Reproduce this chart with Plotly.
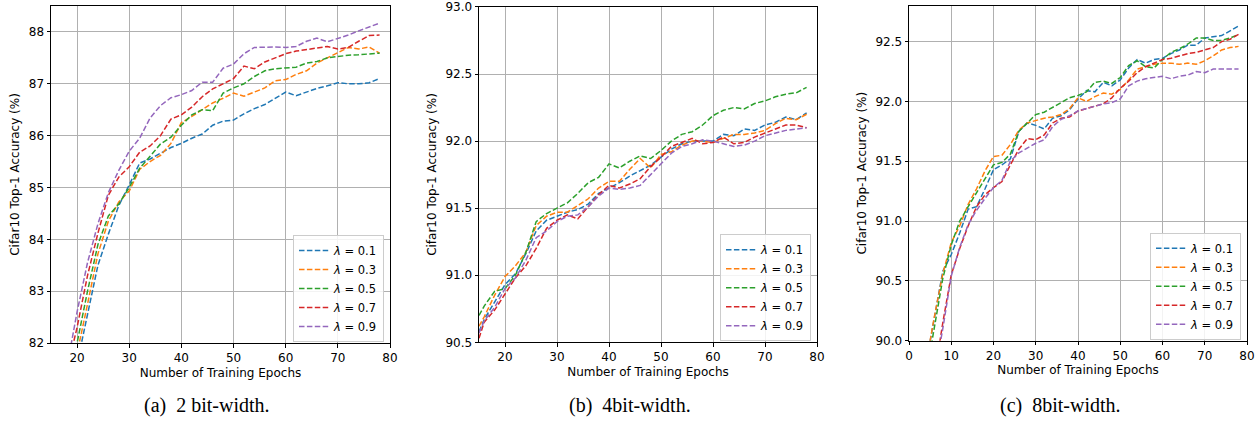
import plotly.graph_objects as go

# ---------------- data ----------------
lambdas = ["0.1", "0.3", "0.5", "0.7", "0.9"]
colors = ["#1f77b4", "#ff7f0e", "#2ca02c", "#d62728", "#9467bd"]

# (a) 2 bit-width
epochs_a = list(range(18, 79, 2))
a_l01 = [81.0, 81.6, 82.55, 83.5, 84.1, 84.65, 85.05, 85.47, 85.55, 85.66, 85.77, 85.85, 85.95, 86.03,
         86.2, 86.28, 86.3, 86.42, 86.52, 86.6, 86.72, 86.84, 86.77, 86.84, 86.91, 86.96, 87.02, 87.0,
         87.0, 87.02, 87.1]
a_l03 = [81.15, 81.8, 82.75, 83.72, 84.35, 84.72, 84.93, 85.35, 85.5, 85.62, 85.85, 86.25, 86.37, 86.5,
         86.63, 86.72, 86.82, 86.76, 86.84, 86.92, 87.06, 87.08, 87.18, 87.25, 87.4, 87.5, 87.6, 87.7,
         87.67, 87.71, 87.59]
a_l05 = [81.3, 82.0, 83.0, 83.9, 84.45, 84.68, 85.0, 85.37, 85.6, 85.84, 85.97, 86.2, 86.4, 86.5,
         86.48, 86.82, 86.92, 87.0, 87.14, 87.25, 87.29, 87.3, 87.32, 87.4, 87.43, 87.5, 87.53, 87.55,
         87.56, 87.58, 87.59]
a_l07 = [81.45, 82.3, 83.3, 84.12, 84.85, 85.2, 85.4, 85.68, 85.8, 86.0, 86.32, 86.4, 86.55, 86.75,
         86.9, 87.0, 87.1, 87.34, 87.29, 87.42, 87.5, 87.58, 87.63, 87.66, 87.69, 87.72, 87.67, 87.7,
         87.82, 87.93, 87.94]
a_l09 = [81.5, 82.6, 83.55, 84.3, 84.9, 85.33, 85.7, 85.95, 86.34, 86.58, 86.73, 86.79, 86.87, 87.03,
         87.03, 87.3, 87.38, 87.58, 87.7, 87.71, 87.71, 87.7, 87.72, 87.82, 87.88, 87.81, 87.87, 87.94,
         88.02, 88.1, 88.17]

# (b) 4bit-width
epochs_b = [15] + list(range(16, 79, 2))
b_l01 = [90.58, 90.67, 90.8, 90.93, 91.01, 91.16, 91.33, 91.41, 91.44, 91.47, 91.49, 91.53, 91.61,
         91.65, 91.69, 91.74, 91.78, 91.82, 91.88, 91.94, 91.98, 92.0, 92.0, 92.0, 92.05, 92.04, 92.09,
         92.08, 92.12, 92.14, 92.18, 92.16, 92.21]
b_l03 = [90.62, 90.69, 90.85, 90.99, 91.07, 91.17, 91.37, 91.44, 91.47, 91.47, 91.52, 91.57, 91.65,
         91.7, 91.7, 91.79, 91.87, 91.8, 91.9, 91.92, 91.97, 92.0, 92.0, 91.99, 92.02, 92.05, 92.05,
         92.06, 92.08, 92.13, 92.17, 92.16, 92.2]
b_l05 = [90.7, 90.77, 90.88, 90.9, 91.0, 91.17, 91.4, 91.46, 91.5, 91.54, 91.61, 91.69, 91.73,
         91.83, 91.8, 91.85, 91.89, 91.87, 91.93, 92.0, 92.05, 92.07, 92.12, 92.19, 92.23, 92.25, 92.24,
         92.28, 92.3, 92.33, 92.35, 92.36, 92.4]
b_l07 = [90.53, 90.65, 90.74, 90.86, 90.98, 91.07, 91.2, 91.35, 91.41, 91.45, 91.42, 91.51, 91.6,
         91.67, 91.65, 91.68, 91.72, 91.81, 91.88, 91.96, 91.99, 92.02, 91.98, 91.99, 92.03, 91.98, 91.99,
         92.03, 92.06, 92.09, 92.12, 92.12, 92.1]
b_l09 = [90.57, 90.66, 90.76, 90.9, 90.98, 91.11, 91.28, 91.33, 91.4, 91.44, 91.45, 91.51, 91.59,
         91.65, 91.64, 91.65, 91.67, 91.75, 91.83, 91.91, 91.96, 91.98, 92.01, 92.0, 91.98, 91.96, 91.97,
         92.0, 92.04, 92.06, 92.08, 92.09, 92.1]

# (c) 8bit-width
epochs_c = list(range(4, 79, 2))
c_l01 = [89.8, 90.18, 90.58, 90.72, 90.9, 91.1, 91.12, 91.27, 91.43, 91.47, 91.52, 91.75, 91.82, 91.8,
         91.77, 91.86, 91.88, 91.93, 92.02, 92.09, 92.08, 92.16, 92.13, 92.18, 92.28, 92.35, 92.32, 92.35,
         92.36, 92.4, 92.43, 92.47, 92.47, 92.53, 92.54, 92.55, 92.59, 92.63]
c_l03 = [89.8, 90.2, 90.56, 90.82, 90.96, 91.14, 91.27, 91.42, 91.54, 91.55, 91.64, 91.76, 91.82, 91.84,
         91.86, 91.87, 91.89, 91.94, 92.03, 92.0, 92.04, 92.07, 92.06, 92.1, 92.18, 92.27, 92.29, 92.31,
         92.32, 92.32, 92.31, 92.32, 92.31, 92.34, 92.38, 92.43, 92.45, 92.46]
c_l05 = [89.7, 90.12, 90.52, 90.8, 91.0, 91.12, 91.24, 91.36, 91.47, 91.49, 91.56, 91.75, 91.82, 91.89,
         91.91, 91.95, 91.99, 92.03, 92.05, 92.08, 92.16, 92.17, 92.15, 92.2, 92.3, 92.34, 92.29, 92.28,
         92.35, 92.41, 92.44, 92.48, 92.53, 92.53, 92.51, 92.51, 92.53, 92.56]
c_l07 = [89.4, 89.7, 90.15, 90.55, 90.77, 90.96, 91.12, 91.22, 91.28, 91.33, 91.47, 91.6, 91.69, 91.68,
         91.72, 91.82, 91.86, 91.87, 91.92, 91.94, 91.96, 91.98, 92.03, 92.11, 92.17, 92.24, 92.29, 92.32,
         92.35, 92.36, 92.38, 92.4, 92.41, 92.43, 92.45, 92.5, 92.52, 92.56]
c_l09 = [89.3, 89.7, 90.1, 90.54, 90.78, 90.97, 91.09, 91.19, 91.28, 91.34, 91.5, 91.57, 91.61, 91.65,
         91.68, 91.79, 91.85, 91.88, 91.92, 91.94, 91.96, 91.98, 91.99, 92.02, 92.13, 92.17, 92.19, 92.2,
         92.21, 92.19, 92.21, 92.22, 92.25, 92.24, 92.27, 92.27, 92.27, 92.27]

captions = ["(a)\u00a0\u00a02 bit-width.", "(b)\u00a0\u00a04bit-width.", "(c)\u00a0\u00a08bit-width."]
x_title = "Number of Training Epochs"
y_title = "Cifar10 Top-1 Accuracy (%)"

# ---------------- figure ----------------
W, H = 1259, 421
fig = go.Figure()

panels = [
    (epochs_a, [a_l01, a_l03, a_l05, a_l07, a_l09], "x", "y", "legend"),
    (epochs_b, [b_l01, b_l03, b_l05, b_l07, b_l09], "x2", "y2", "legend2"),
    (epochs_c, [c_l01, c_l03, c_l05, c_l07, c_l09], "x3", "y3", "legend3"),
]
for ep, series, xa, ya, lg in panels:
    for lam, col, ys in zip(lambdas, colors, series):
        fig.add_trace(go.Scatter(
            x=ep, y=ys, mode="lines", name=f"<i>λ</i> = {lam}",
            line=dict(color=col, width=1.5, dash="5.5px,2.4px"),
            xaxis=xa, yaxis=ya, legend=lg, hoverinfo="skip"))

font_ax = dict(family="DejaVu Sans", size=12, color="black")
font_leg = dict(family="DejaVu Sans", size=11.5, color="black")
base = dict(showline=True, linecolor="black", linewidth=1, mirror=True,
            showgrid=True, gridcolor="#b0b0b0", gridwidth=1,
            ticks="outside", ticklen=3.5, tickwidth=1, tickcolor="black",
            tickfont=font_ax, zeroline=False, automargin=False)

# plot-area pixel boxes: (left, right, top, bottom)
boxes = [(51, 390, 6, 343), (479, 817, 6.7, 342.3), (909, 1247, 5.7, 340.7)]
xranges = [[15, 80], [15, 80], [0, 80]]
yranges = [[82, 88.5], [90.5, 93.002], [90.0, 92.8]]
ydticks = [1, 0.5, 0.5]
yfmts = ["d", ".1f", ".1f"]

layout = dict(width=W, height=H, autosize=False,
              margin=dict(l=0, r=0, t=0, b=0),
              paper_bgcolor="white", plot_bgcolor="white",
              font=font_ax)
for i, (l, r, t, b) in enumerate(boxes):
    sfx = "" if i == 0 else str(i + 1)
    layout["xaxis" + sfx] = dict(base, domain=[l / W, r / W], range=xranges[i],
                                 dtick=10, tick0=0, anchor="y" + sfx,
                                 title=dict(text=x_title, font=font_ax, standoff=4))
    layout["yaxis" + sfx] = dict(base, domain=[1 - b / H, 1 - t / H], range=yranges[i],
                                 dtick=ydticks[i], tick0=90 if i else 82, tickformat=yfmts[i],
                                 anchor="x" + sfx,
                                 title=dict(text=y_title, font=font_ax, standoff=6))
    layout["legend" + sfx] = dict(
        x=(r - 6) / W, xanchor="right", y=1 - (b - 1) / H, yanchor="bottom",
        bgcolor="rgba(255,255,255,0.85)", bordercolor="#cccccc", borderwidth=1,
        font=font_leg, tracegroupgap=0, itemwidth=30)

fig.update_layout(**layout)

cap_x = [207, 630, 1060]
for cx, txt in zip(cap_x, captions):
    fig.add_annotation(x=cx / W, y=1 - 405 / H, xref="paper", yref="paper",
                       text=txt, showarrow=False, xanchor="center", yanchor="middle",
                       font=dict(family="Liberation Serif", size=20, color="black"))

fig.write_html("out.html", config={"displayModeBar": False},
               post_script="document.body.style.margin='0';document.body.style.padding='0';"
                           "document.body.style.overflow='hidden';")
